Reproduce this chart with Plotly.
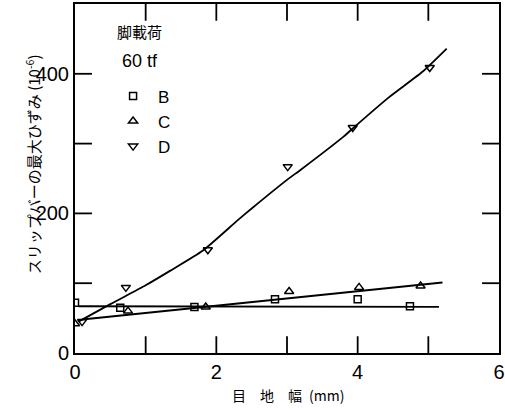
import plotly.graph_objects as go

# Measured points: joint width (mm) vs. maximum slip-bar strain (x10^-6)
gap_b = [0.0, 0.64, 1.69, 2.83, 4.0, 4.74]
strain_b = [72, 65, 66, 77, 77, 67]

gap_c = [0.0, 0.75, 1.85, 3.03, 4.02, 4.89]
strain_c = [42, 60, 66, 88, 94, 96]

gap_d = [0.1, 0.72, 1.88, 3.01, 3.93, 5.02]
strain_d = [45, 94, 148, 267, 323, 409]

# Fitted trend lines
fit_b_x = [0.05, 5.15]
fit_b_y = [67, 66]
fit_c_x = [0.1, 5.2]
fit_c_y = [48, 101]
fit_d_x = [0.05, 0.5, 1.0, 1.35, 1.8, 2.3, 2.5, 3.0, 3.2, 3.8, 4.0, 4.45, 4.93, 5.26]
fit_d_y = [45, 70, 97, 118, 146, 190, 207, 248, 263, 310, 328, 367, 404, 436]

# Tick positions and labels (every other tick is labelled)
x_ticks = [0, 1, 2, 3, 4, 5, 6]
x_labels = ["0", " ", "2", " ", "4", " ", "6"]
y_ticks = [0, 100, 200, 300, 400, 500]
y_labels = ["0", " ", "200", " ", "400", " "]

X_RANGE = [0, 6]
Y_RANGE = [0, 500]
# inward tick length expressed in axis units (about 17 px)
X_TICK_LEN = 0.24
Y_TICK_LEN = 24

JP = "Noto Sans CJK JP"
NUM = "Liberation Sans"

fig = go.Figure()

# Inward tick marks on all four sides, drawn as one broken line trace
tx, ty = [], []
for t in x_ticks[1:-1]:
    tx += [t, t, None, t, t, None]
    ty += [Y_RANGE[0], Y_RANGE[0] + Y_TICK_LEN, None,
           Y_RANGE[1], Y_RANGE[1] - Y_TICK_LEN, None]
for t in y_ticks[1:-1]:
    tx += [X_RANGE[0], X_RANGE[0] + X_TICK_LEN, None,
           X_RANGE[1], X_RANGE[1] - X_TICK_LEN, None]
    ty += [t, t, None, t, t, None]
fig.add_trace(go.Scatter(
    x=tx, y=ty, mode="lines", showlegend=False, hoverinfo="skip",
    line=dict(color="black", width=1.8), connectgaps=False,
))

for fx, fy in [(fit_b_x, fit_b_y), (fit_c_x, fit_c_y), (fit_d_x, fit_d_y)]:
    fig.add_trace(go.Scatter(
        x=fx, y=fy, mode="lines", showlegend=False, hoverinfo="skip",
        line=dict(color="black", width=1.8, shape="spline", smoothing=0.6),
    ))

series = [
    ("B", gap_b, strain_b, "square-open", 7),
    ("C", gap_c, strain_c, "triangle-up-open", 8),
    ("D", gap_d, strain_d, "triangle-down-open", 8),
]
for name, xs, ys, sym, sz in series:
    fig.add_trace(go.Scatter(
        x=xs, y=ys, mode="markers", name=name,
        marker=dict(symbol=sym, size=sz, color="black",
                    line=dict(color="black", width=1.5)),
    ))

axis_common = dict(
    showgrid=False, zeroline=False,
    showline=True, linecolor="black", linewidth=2, mirror=True,
    ticks="", tickfont=dict(family=NUM, size=20, color="black"),
)

fig.update_xaxes(range=X_RANGE, tickmode="array", tickvals=x_ticks,
                 ticktext=x_labels, **axis_common)
fig.update_yaxes(range=Y_RANGE, tickmode="array", tickvals=y_ticks,
                 ticktext=y_labels, **axis_common)

fig.add_annotation(
    text="スリップバーの最大ひずみ (10<sup>-6</sup>)",
    xref="paper", yref="paper", x=-0.1, y=0.54,
    xanchor="center", yanchor="middle",
    textangle=-90, showarrow=False,
    font=dict(family=JP, size=15, color="black"),
)
fig.add_annotation(
    text="目　地　幅\u2002(mm)",
    xref="paper", yref="paper", x=0.502, y=-0.12,
    xanchor="center", yanchor="middle",
    showarrow=False,
    font=dict(family=JP, size=14, color="black"),
)
fig.add_annotation(
    text="脚載荷", xref="paper", yref="paper", x=0.153, y=0.92,
    xanchor="center", yanchor="middle",
    showarrow=False, font=dict(family=JP, size=15, color="black"),
)
fig.add_annotation(
    text="60 tf", xref="paper", yref="paper", x=0.153, y=0.836,
    xanchor="center", yanchor="middle",
    showarrow=False, font=dict(family=NUM, size=18, color="black"),
)

fig.update_layout(
    template="none",
    width=505, height=411,
    margin=dict(l=75, r=6, t=4, b=58),
    plot_bgcolor="white", paper_bgcolor="white",
    showlegend=True,
    legend=dict(
        x=0.078, y=0.787, xanchor="left", yanchor="top",
        font=dict(family=NUM, size=17, color="black"),
        bgcolor="rgba(0,0,0,0)", tracegroupgap=0, itemwidth=40,
    ),
)

fig.write_html("out.html")
